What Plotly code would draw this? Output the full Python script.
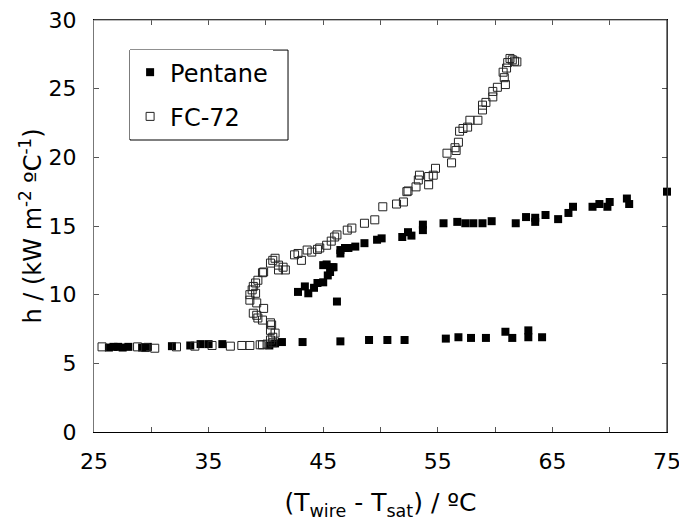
import plotly.graph_objects as go

# ---- data ----
pentane_x = [26.3, 26.7, 27.1, 27.5, 28.0, 29.2, 29.7, 31.8, 33.4, 34.3, 35.0, 36.2,
             40.3, 40.8, 41.4, 43.2, 46.5, 49.0, 50.6, 52.1, 55.7, 56.8, 57.9, 59.2,
             60.9, 61.5, 62.9, 62.9, 64.1,
             46.2,
             42.8, 43.4, 43.7, 44.2, 44.5, 45.0, 45.4, 45.6, 45.8, 45.0, 45.3, 45.9,
             46.5, 46.5, 46.9, 47.2, 47.8, 48.6, 49.7, 50.1, 51.9, 52.4, 52.7, 53.7,
             53.7, 55.5, 56.7, 57.4, 58.1, 58.9, 59.7, 61.8, 62.7, 63.5, 63.5, 64.4,
             65.5, 66.4, 66.8, 68.5, 69.1, 69.8, 70.0, 71.5, 71.7, 75.0]
pentane_y = [6.15, 6.2, 6.2, 6.15, 6.2, 6.15, 6.2, 6.25, 6.3, 6.4, 6.4, 6.4,
             6.3, 6.45, 6.55, 6.55, 6.6, 6.7, 6.7, 6.7, 6.8, 6.9, 6.85, 6.85,
             7.3, 6.85, 7.4, 6.9, 6.9,
             9.5,
             10.2, 10.6, 10.1, 10.5, 10.85, 10.9, 11.4, 11.65, 12.0, 12.15, 12.2, 12.0,
             13.0, 13.25, 13.4, 13.4, 13.5, 13.75, 14.0, 14.1, 14.2, 14.55, 14.3, 15.1,
             14.7, 15.2, 15.3, 15.2, 15.2, 15.2, 15.35, 15.2, 15.65, 15.3, 15.6, 15.8,
             15.5, 15.95, 16.4, 16.4, 16.6, 16.4, 16.75, 17.0, 16.6, 17.5]

fc72_x = [25.7, 28.8, 29.5, 30.3, 32.2, 33.8, 35.3, 36.9, 37.9, 38.6, 39.5, 39.7,
          40.1, 40.6, 40.4, 40.6, 40.8, 40.4, 40.5, 40.4, 39.7, 39.3, 39.2, 38.9,
          39.8, 39.2, 38.6, 38.6, 39.1, 38.8, 38.9, 39.1, 39.3, 39.7, 39.8, 40.4,
          40.6, 40.8, 41.1, 41.5, 41.7, 41.1, 42.5, 42.8, 43.1, 43.6, 44.0, 44.5,
          44.7, 45.3, 45.7, 46.0, 46.2, 47.1, 47.5, 48.6, 49.5, 50.2, 51.4, 52.0,
          52.3, 52.4, 53.1, 53.3, 53.4, 54.2, 54.2, 54.6, 54.8, 55.8, 56.2, 56.6,
          56.5, 56.8, 56.9, 57.2, 57.6, 57.8, 58.5, 58.9, 58.9, 59.2, 59.8, 59.8,
          60.2, 60.9, 60.8, 60.7, 61.0, 61.1, 61.5, 61.7, 61.9, 61.3]
fc72_y = [6.2, 6.2, 6.15, 6.1, 6.2, 6.25, 6.3, 6.25, 6.3, 6.3, 6.35, 6.35,
          6.4, 6.5, 6.7, 6.9, 7.2, 7.4, 7.8, 7.95, 8.15, 8.3, 8.5, 8.65,
          9.0, 9.4, 9.6, 10.0, 10.1, 10.35, 10.6, 10.85, 11.05, 11.6, 11.65, 12.3,
          12.5, 12.65, 12.15, 12.0, 11.8, 11.8, 12.9, 13.0, 12.5, 13.25, 13.1, 13.3,
          13.4, 13.6, 13.9, 14.2, 14.35, 14.7, 14.85, 15.2, 15.45, 16.4, 16.6, 16.75,
          17.5, 17.55, 17.85, 18.35, 18.7, 18.0, 18.6, 18.7, 19.2, 20.3, 19.6, 20.5,
          20.7, 21.1, 21.9, 22.1, 22.2, 22.7, 22.7, 23.45, 23.8, 24.0, 24.4, 24.8,
          25.1, 25.3, 25.8, 26.2, 26.5, 26.9, 27.1, 27.0, 26.95, 27.2]

x_ticks = [25, 30, 35, 40, 45, 50, 55, 60, 65, 70, 75]
x_ticktext = ["25", "", "35", "", "45", "", "55", "", "65", "", "75"]
y_ticks = [0, 5, 10, 15, 20, 25, 30]

FONT = "DejaVu Sans"

fig = go.Figure()
fig.add_trace(go.Scatter(
    x=pentane_x, y=pentane_y, mode="markers", name="Pentane",
    legendgroup="a", cliponaxis=False,
    marker=dict(symbol="square", size=8, color="black", line=dict(width=0)),
))
fig.add_trace(go.Scatter(
    x=fc72_x, y=fc72_y, mode="markers", name="FC-72",
    legendgroup="b", cliponaxis=False,
    marker=dict(symbol="square-open", size=8, color="#222222", line=dict(width=1)),
))

# the page body has an 8px margin, so the figure is shifted by 8px
fig.update_layout(
    width=679, height=521,
    margin=dict(l=86, r=20, t=12, b=97, autoexpand=False),
    paper_bgcolor="white", plot_bgcolor="white",
    font=dict(family=FONT, size=22, color="black"),
    showlegend=True,
    legend=dict(
        x=0.063, y=0.927, xanchor="left", yanchor="top",
        borderwidth=0, bgcolor="white",
        font=dict(family=FONT, size=24, color="black"),
        tracegroupgap=10,
    ),
    xaxis=dict(
        range=[25, 75], tickvals=x_ticks, ticktext=x_ticktext,
        ticks="inside", ticklen=5, tickcolor="#555555",
        showline=True, linecolor="black", linewidth=1, mirror="ticks",
        showgrid=False, zeroline=False, automargin=False,
        ticklabeloverflow="allow", ticklabelstandoff=10,
        tickfont=dict(family=FONT, size=22),
        title=dict(text="(T<sub>wire</sub> - T<sub>sat</sub>) / ºC",
                   font=dict(family=FONT, size=25), standoff=20),
    ),
    yaxis=dict(
        range=[0, 30], tickvals=y_ticks,
        ticks="inside", ticklen=5, tickcolor="#555555",
        showline=True, linecolor="#777777", linewidth=1, mirror="ticks",
        showgrid=False, zeroline=False, automargin=False,
        ticklabeloverflow="allow",
        tickfont=dict(family=FONT, size=22),
        ticklabelstandoff=12,
        title=dict(text="h / (kW m<sup>-2</sup> ºC<sup>-1</sup>)",
                   font=dict(family=FONT, size=24), standoff=0),
    ),
    shapes=[
        dict(type="line", xref="paper", yref="paper", x0=0, x1=1, y0=1, y1=1,
             line=dict(color="#777777", width=1), layer="above"),
        dict(type="line", xref="paper", yref="paper", x0=1, x1=1, y0=0, y1=1,
             line=dict(color="black", width=1), layer="above"),
        # legend frame
        dict(type="rect", xref="paper", yref="paper",
             x0=0.0628, x1=0.3386, y0=0.7087, y1=0.927,
             line=dict(color="black", width=1), fillcolor="rgba(0,0,0,0)",
             layer="above"),
    ],
)

fig.write_html("out.html")
